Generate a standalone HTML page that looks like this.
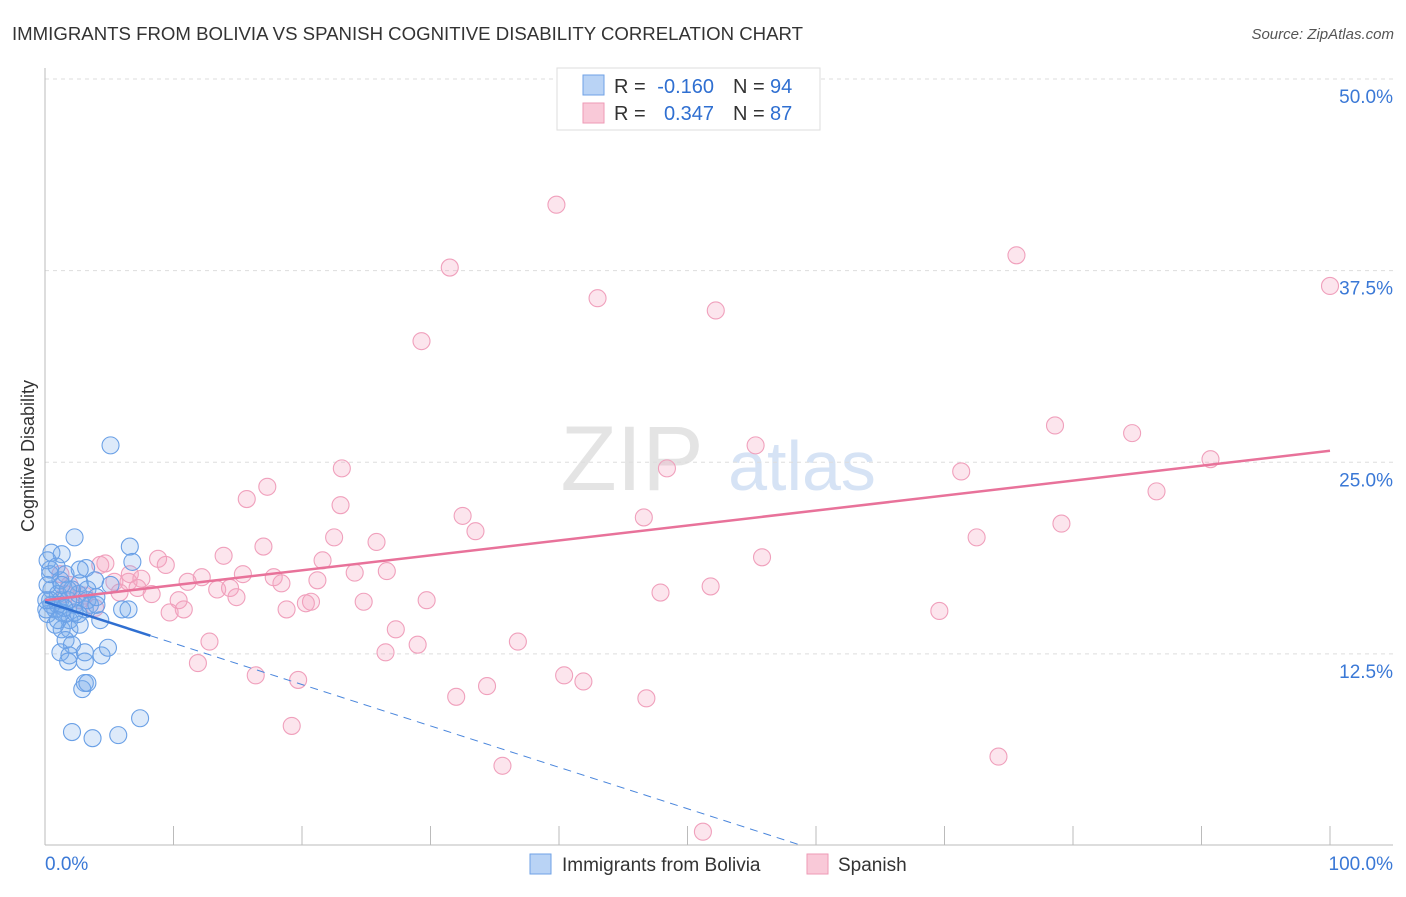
<!DOCTYPE html>
<html><head><meta charset="utf-8"><style>
body{margin:0;background:#fff;font-family:"Liberation Sans",sans-serif;}
svg text{font-family:"Liberation Sans",sans-serif;}
</style></head><body>
<svg id="chart" width="1406" height="892" viewBox="0 0 1406 892" xmlns="http://www.w3.org/2000/svg">
<text x="12" y="40" font-size="18" fill="#333" textLength="791" lengthAdjust="spacingAndGlyphs">IMMIGRANTS FROM BOLIVIA VS SPANISH COGNITIVE DISABILITY CORRELATION CHART</text>
<text x="1394" y="39" font-size="15" fill="#555" text-anchor="end" font-style="italic">Source: ZipAtlas.com</text>
<g>
<text x="632" y="490" font-size="92" fill="#e4e4e4" text-anchor="middle" font-family="Liberation Serif">ZIP</text>
<text x="802" y="490" font-size="70" fill="#d6e3f5" text-anchor="middle">atlas</text>
</g>
<g id="grid"></g>
<g id="axes"></g>
<text transform="translate(34,456) rotate(-90)" font-size="18" fill="#333" text-anchor="middle">Cognitive Disability</text>
<g id="marks"></g>
<g id="trends"></g>
<g>
<rect x="557" y="68" width="263" height="62" fill="#fff" stroke="#ddd"/>
<rect x="583" y="75" width="21" height="20" fill="#b9d3f5" stroke="#6fa2e6"/>
<rect x="583" y="103" width="21" height="20" fill="#f9c9d8" stroke="#ee9ab6"/>
<text x="614" y="93" font-size="20" fill="#333">R =</text>
<text x="714" y="93" font-size="20" fill="#2f6fd1" text-anchor="end">-0.160</text>
<text x="733" y="93" font-size="20" fill="#333">N =</text>
<text x="770" y="93" font-size="20" fill="#2f6fd1">94</text>
<text x="614" y="120" font-size="20" fill="#333">R =</text>
<text x="714" y="120" font-size="20" fill="#2f6fd1" text-anchor="end">0.347</text>
<text x="733" y="120" font-size="20" fill="#333">N =</text>
<text x="770" y="120" font-size="20" fill="#2f6fd1">87</text>
</g>
<g>
<rect x="530" y="854" width="21" height="20" fill="#b9d3f5" stroke="#6fa2e6"/>
<text x="562" y="871" font-size="19" fill="#333">Immigrants from Bolivia</text>
<rect x="807" y="854" width="21" height="20" fill="#f9c9d8" stroke="#ee9ab6"/>
<text x="838" y="871" font-size="19" fill="#333">Spanish</text>
</g>
</svg>
<script>
const yTicks=[12.5,25,37.5,50];
const yTickLabels=["12.5%","25.0%","37.5%","50.0%"];
const xEndLabels=["0.0%","100.0%"];
const blueX=[5.1,2.3,6.6,1.3,0.5,6.8,3.2,0.4,1.2,2.7,3.9,5.1,6.0,6.5,4.3,1.9,1.2,0.8,0.2,2.3,3.1,3.5,1.6,0.5,1.0,1.8,2.6,3.3,0.4,0.2,1.3,1.9,2.7,1.6,2.1,1.2,1.9,1.8,3.1,4.4,4.9,3.1,3.1,2.9,3.3,7.4,2.1,3.7,5.7,0.8,1.0,1.3,2.3,0.2,0.4,0.9,1.6,2.1,2.7,4.0,0.5,1.5,0.1,0.1,1.0,2.6,1.8,3.3,1.3,4.0];
const blueY=[26.1,20.1,19.5,19.0,19.1,18.5,18.1,18.0,17.3,17.1,17.3,17.0,15.4,15.4,14.7,14.7,16.0,15.4,15.1,15.7,15.4,15.7,15.1,16.7,16.4,16.0,16.4,16.0,16.0,17.0,14.1,14.1,14.4,13.4,13.1,12.6,12.4,12.0,12.0,12.4,12.9,12.6,10.6,10.2,10.6,8.3,7.4,7.0,7.2,14.4,15.7,15.2,15.2,18.6,17.7,18.2,17.7,16.7,18.0,15.7,15.7,15.5,15.4,16.0,14.7,15.1,16.7,16.7,17.0,16.2];
const pinkX=[39.8,31.5,75.6,100,43.0,52.2,29.3,78.6,84.6,55.3,23.1,48.4,71.3,90.7,15.7,17.3,23.0,32.5,33.5,46.6,86.5,79.1,72.5,22.5,25.8,17.0,13.9,8.8,9.4,55.8,21.6,15.4,26.6,12.2,11.1,17.8,18.4,21.2,24.1,6.5,7.5,4.3,4.7,7.2,8.3,10.4,13.4,14.4,14.9,29.7,20.7,20.3,18.8,10.8,9.7,24.8,47.9,51.8,69.6,27.3,12.8,36.8,29.0,26.5,11.9,16.4,19.7,40.4,41.9,34.4,32.0,46.8,19.2,74.2,35.6,51.2,5.8,5.4,3.1,1.2,1.9,3.9,2.7,6.6,1.6];
const pinkY=[41.8,37.7,38.5,36.5,35.7,34.9,32.9,27.4,26.9,26.1,24.6,24.6,24.4,25.2,22.6,23.4,22.2,21.5,20.5,21.4,23.1,21.0,20.1,20.1,19.8,19.5,18.9,18.7,18.3,18.8,18.6,17.7,17.9,17.5,17.2,17.5,17.1,17.3,17.8,17.2,17.4,18.3,18.4,16.8,16.4,16.0,16.7,16.8,16.2,16.0,15.9,15.8,15.4,15.4,15.2,15.9,16.5,16.9,15.3,14.1,13.3,13.3,13.1,12.6,11.9,11.1,10.8,11.1,10.7,10.4,9.7,9.6,7.8,5.8,5.2,0.9,16.5,17.2,16.3,17.7,17.0,15.5,16.0,17.7,16.4];
const pinkTrend=[16.0,25.75];
const blueTrend=[15.9,-0.27];
const NS="http://www.w3.org/2000/svg";
const X0=45,X1=1330,Y0=845.5,Y50=79;
const sx=v=>X0+(X1-X0)*v/100;
const sy=v=>Y0-(Y0-Y50)*v/50;
function mk(tag,attrs,parent){const e=document.createElementNS(NS,tag);for(const k in attrs)e.setAttribute(k,attrs[k]);parent.appendChild(e);return e;}
const grid=document.getElementById('grid'),axes=document.getElementById('axes'),marks=document.getElementById('marks'),trends=document.getElementById('trends');
yTicks.forEach((t,i)=>{
 const l=mk('line',{x1:X0,x2:1393,y1:sy(t),y2:sy(t),stroke:'#ddd','stroke-dasharray':'4,4'},grid);
 
 
 const tx=mk('text',{x:1393,y:sy(t)+24,'font-size':19,fill:'#3a78d6','text-anchor':'end'},axes);
 tx.textContent=yTickLabels[i];
 
 
});
const ya=mk('line',{x1:X0,x2:X0,y1:68,y2:845,stroke:'#bbb'},axes);


const xa=mk('line',{x1:X0,x2:1393,y1:845,y2:845,stroke:'#bbb'},axes);


for(let i=0;i<=10;i++){
 const t=mk('line',{x1:sx(i*10),x2:sx(i*10),y1:826,y2:845,stroke:'#bbb'},axes);
 
 
}
const xl0=mk('text',{x:45,y:870,'font-size':19,fill:'#3a78d6'},axes);xl0.textContent=xEndLabels[0];


const xl1=mk('text',{x:1393,y:870,'font-size':19,fill:'#3a78d6','text-anchor':'end'},axes);xl1.textContent=xEndLabels[1];


pinkX.forEach((v,i)=>{
 const c=mk('circle',{cx:sx(v),cy:sy(pinkY[i]),r:8.5,fill:'rgba(244,160,190,0.28)',stroke:'#f0a0bc','stroke-width':1.1},marks);
 
 
});
blueX.forEach((v,i)=>{
 const c=mk('circle',{cx:sx(v),cy:sy(blueY[i]),r:8.5,fill:'rgba(120,170,235,0.25)',stroke:'#6aa0e6','stroke-width':1.1},marks);
 
 
});
const pt=mk('line',{x1:sx(0),y1:sy(pinkTrend[0]),x2:sx(100),y2:sy(pinkTrend[1]),stroke:'#e8729a','stroke-width':2.5},trends);


const bEnd=-blueTrend[0]/blueTrend[1];
const bt=mk('line',{x1:sx(0),y1:sy(blueTrend[0]),x2:sx(8.2),y2:sy(blueTrend[0]+blueTrend[1]*8.2),stroke:'#2f6fd1','stroke-width':2.5},trends);


const bd=mk('line',{x1:sx(8.2),y1:sy(blueTrend[0]+blueTrend[1]*8.2),x2:sx(bEnd),y2:sy(0),stroke:'#4a86dc','stroke-width':1,'stroke-dasharray':'8,6'},trends);


</script>
</body></html>
